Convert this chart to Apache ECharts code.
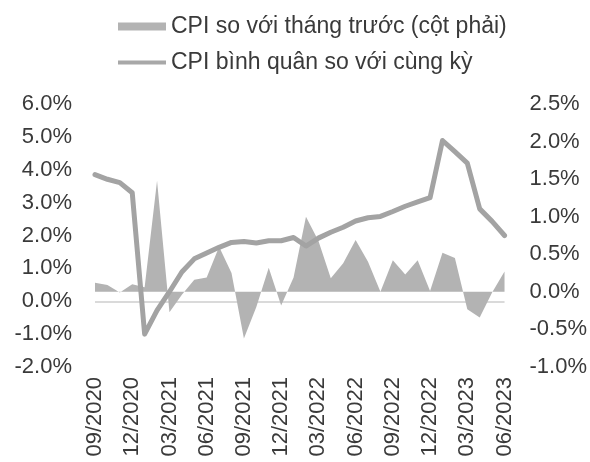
<!DOCTYPE html>
<html>
<head>
<meta charset="utf-8">
<script src="https://cdn.jsdelivr.net/npm/echarts@6/dist/echarts.min.js"></script>
<style>
html,body{margin:0;padding:0;background:#fff;}
#chart{width:590px;height:462px;}
</style>
</head>
<body>
<div id="chart"></div>
<script>
const categories = [
  '09/2020','10/2020','11/2020','12/2020',
  '01/2021','02/2021','03/2021','04/2021','05/2021','06/2021','07/2021','08/2021','09/2021','10/2021','11/2021','12/2021',
  '01/2022','02/2022','03/2022','04/2022','05/2022','06/2022','07/2022','08/2022','09/2022','10/2022','11/2022','12/2022',
  '01/2023','02/2023','03/2023','04/2023','05/2023','06/2023'
];
// CPI so với tháng trước (%), right axis
const cpiMoM = [
  0.12, 0.09, -0.01, 0.10,
  0.06, 1.48, -0.27, -0.04, 0.16, 0.19, 0.60, 0.25, -0.62, -0.20, 0.32, -0.18,
  0.19, 1.00, 0.68, 0.18, 0.38, 0.69, 0.40, 0.00, 0.42, 0.23, 0.42, 0.01,
  0.52, 0.45, -0.23, -0.34, -0.01, 0.27
];
// CPI bình quân so với cùng kỳ (%), left axis
const cpiAvgYoY = [
  3.85, 3.71, 3.61, 3.30,
  -1.00, -0.28, 0.29, 0.89, 1.29, 1.47, 1.64, 1.79, 1.82, 1.77, 1.84, 1.84,
  1.94, 1.68, 1.92, 2.10, 2.25, 2.44, 2.54, 2.58, 2.73, 2.89, 3.02, 3.15,
  4.89, 4.55, 4.20, 2.81, 2.43, 2.00
];
const leftTicks = { min: -2, max: 6, interval: 1 };
const rightTicks = { min: -1, max: 2.5, interval: 0.5 };
const seriesNames = ['CPI so với tháng trước (cột phải)', 'CPI bình quân so với cùng kỳ'];

const FONT = '"Liberation Sans", Arial, sans-serif';
const TXT = '#3a3a3a';
const chart = echarts.init(document.getElementById('chart'), null, { renderer: 'canvas' });
chart.setOption({
  animation: false,
  backgroundColor: '#ffffff',
  textStyle: { fontFamily: FONT },
  legend: [
    {
      left: 113, top: 10, itemWidth: 48, itemHeight: 8, itemGap: 0,
      data: [{ name: seriesNames[0], icon: 'rect' }],
      textStyle: { fontSize: 23, color: TXT, fontFamily: FONT }
    },
    {
      left: 113, top: 46, itemWidth: 48, itemHeight: 4, itemGap: 0,
      data: [{ name: seriesNames[1], icon: 'rect' }],
      textStyle: { fontSize: 23, color: TXT, fontFamily: FONT }
    }
  ],
  grid: { left: 95, right: 85, top: 104, bottom: 95 },
  xAxis: {
    type: 'category',
    data: categories,
    boundaryGap: false,
    axisLine: { show: false },
    axisTick: { show: false },
    axisLabel: {
      interval: 2, rotate: 90, margin: 10,
      fontSize: 22, color: TXT, fontFamily: FONT
    },
    splitLine: { show: false }
  },
  yAxis: [
    {
      type: 'value', position: 'left',
      min: leftTicks.min, max: leftTicks.max, interval: leftTicks.interval,
      axisLine: { show: false }, axisTick: { show: false }, splitLine: { show: false },
      axisLabel: { margin: 23, fontSize: 22, color: TXT, fontFamily: FONT,
        formatter: v => v.toFixed(1) + '%' }
    },
    {
      type: 'value', position: 'right',
      min: rightTicks.min, max: rightTicks.max, interval: rightTicks.interval,
      axisLine: { show: false }, axisTick: { show: false }, splitLine: { show: false },
      axisLabel: { margin: 25, fontSize: 22, color: TXT, fontFamily: FONT,
        formatter: v => v.toFixed(1) + '%' }
    }
  ],
  series: [
    {
      name: seriesNames[0],
      type: 'line',
      yAxisIndex: 1,
      data: cpiMoM,
      symbol: 'none',
      lineStyle: { width: 0 },
      itemStyle: { color: '#b3b3b3' },
      areaStyle: { color: '#b3b3b3', opacity: 1 },
      z: 2
    },
    {
      name: seriesNames[1],
      type: 'line',
      yAxisIndex: 0,
      data: cpiAvgYoY,
      symbol: 'none',
      lineStyle: { width: 5, color: '#a3a3a3', join: 'round', cap: 'round' },
      itemStyle: { color: '#a8a8a8' },
      z: 3,
      markLine: {
        silent: true, symbol: 'none', label: { show: false },
        lineStyle: { color: '#dadada', width: 2, type: 'solid' },
        data: [{ yAxis: 0 }],
        z: 1
      }
    }
  ]
});
</script>
</body>
</html>
